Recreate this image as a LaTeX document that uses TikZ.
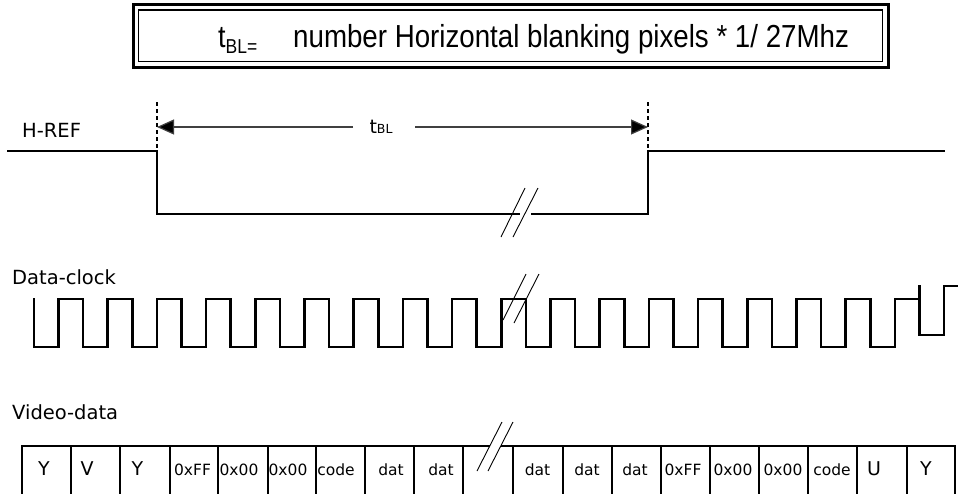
\documentclass[tikz,border=0pt]{standalone}
\usepackage{fontspec}
\setmainfont{DejaVu Sans}
\newfontfamily\ttlfont{Liberation Sans}
\usetikzlibrary{arrows.meta}
\begin{document}
\begin{tikzpicture}[x=1pt,y=-1pt,
  wave/.style={line width=2.6pt,line join=miter,line cap=rect},
  hwave/.style={line width=2.3pt,line join=miter,line cap=rect},
  cellline/.style={line width=2pt},
  dashmark/.style={line width=1.3pt,dash pattern=on 4pt off 3pt},
  slash/.style={line width=0.9pt},
  dimarrow/.style={line width=1.2pt,draw=black!75,-{Triangle[length=17pt,width=15pt,fill=black]}},
  lab/.style={font=\fontsize{19.5}{22}\selectfont,inner sep=0pt,anchor=west},
  small/.style={font=\fontsize{15.5}{18}\selectfont,inner sep=0pt,anchor=base},
  big/.style={font=\fontsize{19}{22}\selectfont,inner sep=0pt,anchor=base}]
\useasboundingbox (0,0) rectangle (959,493);
% title box
\draw[line width=3pt] (133,4.5) rectangle (888,67);
\draw[line width=1.4pt] (138.5,10) rectangle (882.5,61.5);
\node[inner sep=0pt,anchor=base west,font=\ttlfont\fontsize{27}{30}\selectfont] (tt) at (218,47) {\scalebox{1}[1.15]{t\raisebox{-0.22em}{\fontsize{17.5}{20}\selectfont BL=}}};
\node[inner sep=0pt,anchor=base west,font=\ttlfont\fontsize{27.7}{30}\selectfont] (tf) at (293,47) {\scalebox{1}[1.15]{number Horizontal blanking pixels * 1/ 27Mhz}};
% H-REF
\node[lab] (href) at (22,130) {H-REF};
\draw[hwave] (8,151) -- (157,151) -- (157,214) -- (519,214);
\draw[hwave] (532,214) -- (648,214) -- (648,151) -- (944,151);
\draw[dashmark] (157,102) -- (157,151);
\draw[dashmark] (648,102) -- (648,151);
\node[inner sep=0pt,anchor=base] (tbl) at (381,133) {\fontsize{19}{22}\selectfont t\fontsize{12.5}{14}\selectfont BL};
\coordinate (al) at (157,127);
\coordinate (ar) at (648,127);
\coordinate (gl) at (353,127);
\coordinate (gr) at (415,127);
\draw[dimarrow] (gl) -- (al);
\draw[dimarrow] (gr) -- (ar);
\draw[slash] (501,237) -- (525,188);
\draw[slash] (513,237) -- (538,188);
% Data-clock
\node[lab] (dclk) at (12,277) {Data-clock};
\draw[wave] (34,299) foreach \j in {0,...,17}{ -- ++(0,48) -- ++(24.595,0) -- ++(0,-48) -- ++(24.595,0) };
\draw[wave] (919.4,286) -- (919.4,335) -- (944,335) -- (944,286) -- (957,286);
\draw[slash] (503,320) -- (526,274);
\draw[slash] (514,323) -- (539,274);
% Video-data
\node[lab] (vdata) at (12,412) {Video-data};
\draw[cellline] (22,494) -- (22,446) -- (490,446);
\draw[cellline] (501,446) -- (955,446) -- (955,494);
\foreach \x in {71,120,170,218,268,316,365,414,463,513,563,612,661,710,759,808,857,907}
  \draw[cellline] (\x,446) -- (\x,494);
\draw[slash] (477,471) -- (502,422);
\draw[slash] (488,471) -- (513,422);
\node[big] (c1) at (44,475) {Y};
\node[big] (c2) at (87,475) {V};
\node[big] (c3) at (137.5,475) {Y};
\node[small] (c4) at (192.5,475) {0xFF};
\node[small] (c5) at (239,475) {0x00};
\node[small] (c6) at (288,475) {0x00};
\node[small] (c7) at (336,475) {code};
\node[small] (c8) at (391,475) {dat};
\node[small] (c9) at (441,475) {dat};
\node[small] (c11) at (537.5,475) {dat};
\node[small] (c12) at (587,475) {dat};
\node[small] (c13) at (635,475) {dat};
\node[small] (c14) at (683,475) {0xFF};
\node[small] (c15) at (733,475) {0x00};
\node[small] (c16) at (783,475) {0x00};
\node[small] (c17) at (832,475) {code};
\node[big] (c18) at (874,475) {U};
\node[big] (c19) at (926,475) {Y};
\end{tikzpicture}
\end{document}
